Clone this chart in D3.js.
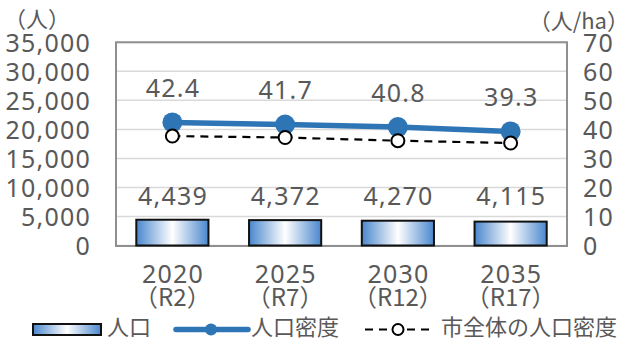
<!DOCTYPE html>
<html>
<head>
<meta charset="utf-8">
<script src="https://cdn.jsdelivr.net/npm/d3@7"></script>
<style>
  html, body { margin: 0; padding: 0; background: #fff; }
  svg text { font-family: "Noto Sans", "Noto Sans CJK JP", sans-serif; fill: #595959; }
  svg text.num { letter-spacing: 1.2px; }
  svg text.jp { font-family: "Noto Sans CJK JP", "Noto Sans", sans-serif; }
</style>
</head>
<body>
<svg id="chart" width="624" height="340"></svg>
<script>
// Population and density by projection year
const years = ["2020", "2025", "2030", "2035"];
const eras = ["（R2）", "（R7）", "（R12）", "（R17）"];
const population = [4439, 4372, 4270, 4115];
const density = [42.4, 41.7, 40.8, 39.3];
const cityDensity = [37.7, 37.2, 36.1, 35.3];
const leftTicks = [0, 5000, 10000, 15000, 20000, 25000, 30000, 35000];
const rightTicks = [0, 10, 20, 30, 40, 50, 60, 70];

const svg = d3.select("#chart");
const plot = { left: 116, right: 567, top: 42.3, bottom: 245.5 };
const numSize = 25;

const x = d3.scaleBand().domain(years).range([plot.left, plot.right])
  .paddingInner(0.36).paddingOuter(0.18);
const yL = d3.scaleLinear().domain([0, 35000]).range([plot.bottom, plot.top]);
const yR = d3.scaleLinear().domain([0, 70]).range([plot.bottom, plot.top]);
const cx = d => x(d) + x.bandwidth() / 2;

// Bar fill: blue at the edges, white through the middle
const defs = svg.append("defs");
const grad = defs.append("linearGradient").attr("id", "barGrad")
  .attr("x1", "0%").attr("x2", "100%").attr("y1", "0%").attr("y2", "0%");
grad.append("stop").attr("offset", "0%").attr("stop-color", "#4a87cd");
grad.append("stop").attr("offset", "50%").attr("stop-color", "#ffffff");
grad.append("stop").attr("offset", "100%").attr("stop-color", "#4a87cd");

// Gridlines
svg.append("g").selectAll("line").data(leftTicks).join("line")
  .attr("x1", plot.left).attr("x2", plot.right)
  .attr("y1", d => yL(d)).attr("y2", d => yL(d))
  .attr("stroke", "#d9d9d9").attr("stroke-width", 1.5);

// Plot frame
svg.append("rect")
  .attr("x", plot.left).attr("y", plot.top)
  .attr("width", plot.right - plot.left).attr("height", plot.bottom - plot.top + 0.5)
  .attr("fill", "none").attr("stroke", "#8f8f8f").attr("stroke-width", 2);

// Left axis (population)
const axisL = d3.axisLeft(yL).tickValues(leftTicks).tickFormat(d3.format(",")).tickSize(0).tickPadding(0);
const gL = svg.append("g").attr("transform", "translate(91,0)").call(axisL);
gL.select(".domain").remove();
gL.selectAll("text").attr("class", "num").attr("font-size", numSize).attr("dy", "0.36em").style("font-family", null);

// Right axis (density)
const axisR = d3.axisRight(yR).tickValues(rightTicks).tickSize(0).tickPadding(0);
const gR = svg.append("g").attr("transform", "translate(583,0)").call(axisR);
gR.select(".domain").remove();
gR.selectAll("text").attr("class", "num").attr("font-size", numSize).attr("dy", "0.36em").style("font-family", null);

// Unit labels
svg.append("text").attr("class", "jp").attr("x", 37).attr("y", 27).attr("text-anchor", "middle")
  .attr("font-size", 22).text("（人）");
svg.append("text").attr("class", "jp").attr("x", 629).attr("y", 29).attr("text-anchor", "end")
  .attr("font-size", 22).text("（人/ha）");

// X axis labels
const xl = svg.append("g");
xl.selectAll("text.year").data(years).join("text").attr("class", "year num")
  .attr("x", d => cx(d) + 0.6).attr("y", 283).attr("text-anchor", "middle")
  .attr("font-size", numSize).text(d => d);
xl.selectAll("text.era").data(years).join("text").attr("class", "era jp")
  .attr("x", d => cx(d)).attr("y", 306).attr("text-anchor", "middle")
  .attr("font-size", 24).text((d, i) => eras[i]);

// Population bars
svg.append("g").selectAll("rect").data(years).join("rect")
  .attr("x", d => x(d)).attr("width", x.bandwidth())
  .attr("y", (d, i) => yL(population[i]))
  .attr("height", (d, i) => yL(0) - yL(population[i]))
  .attr("fill", "url(#barGrad)").attr("stroke", "#111").attr("stroke-width", 2);

// Population value labels
svg.append("g").selectAll("text").data(years).join("text").attr("class", "num")
  .attr("x", d => cx(d) + 0.6).attr("y", 205).attr("text-anchor", "middle")
  .attr("font-size", numSize).text((d, i) => d3.format(",")(population[i]));

// City-wide density (dashed)
const cityLine = d3.line().x((d, i) => cx(years[i])).y(d => yR(d));
svg.append("path").datum(cityDensity).attr("d", cityLine)
  .attr("fill", "none").attr("stroke", "#000").attr("stroke-width", 2.2)
  .attr("stroke-dasharray", "8,6");

// Area density line
const densLine = d3.line().x((d, i) => cx(years[i])).y(d => yR(d));
svg.append("path").datum(density).attr("d", densLine)
  .attr("fill", "none").attr("stroke", "#2e75b6").attr("stroke-width", 5.5);
svg.append("g").selectAll("circle").data(density).join("circle")
  .attr("cx", (d, i) => cx(years[i])).attr("cy", d => yR(d)).attr("r", 10)
  .attr("fill", "#2e75b6");

svg.append("g").selectAll("circle").data(cityDensity).join("circle")
  .attr("cx", (d, i) => cx(years[i])).attr("cy", d => yR(d)).attr("r", 6.5)
  .attr("fill", "#fff").attr("stroke", "#000").attr("stroke-width", 2);

// Density value labels
svg.append("g").selectAll("text").data(density).join("text").attr("class", "num")
  .attr("x", (d, i) => cx(years[i]) + 0.6).attr("y", d => yR(d) - 25)
  .attr("text-anchor", "middle").attr("font-size", numSize).text(d => d.toFixed(1));

// Legend
const lg = svg.append("g");
lg.append("rect").attr("x", 33).attr("y", 324).attr("width", 68).attr("height", 11)
  .attr("fill", "url(#barGrad)").attr("stroke", "#111").attr("stroke-width", 2);
lg.append("text").attr("class", "jp").attr("x", 107).attr("y", 335).attr("font-size", 22).text("人口");

lg.append("line").attr("x1", 176).attr("x2", 248).attr("y1", 329.5).attr("y2", 329.5)
  .attr("stroke", "#2e75b6").attr("stroke-width", 5.5).attr("stroke-linecap", "round");
lg.append("circle").attr("cx", 211).attr("cy", 329.5).attr("r", 6).attr("fill", "#2e75b6");
lg.append("text").attr("class", "jp").attr("x", 251).attr("y", 335).attr("font-size", 22).text("人口密度");

lg.append("line").attr("x1", 365).attr("x2", 429).attr("y1", 329.5).attr("y2", 329.5)
  .attr("stroke", "#000").attr("stroke-width", 2.2).attr("stroke-dasharray", "8,6");
lg.append("circle").attr("cx", 398).attr("cy", 329.5).attr("r", 5.5)
  .attr("fill", "#fff").attr("stroke", "#000").attr("stroke-width", 2);
lg.append("text").attr("class", "jp").attr("x", 441).attr("y", 335).attr("font-size", 22).text("市全体の人口密度");
</script>
</body>
</html>
